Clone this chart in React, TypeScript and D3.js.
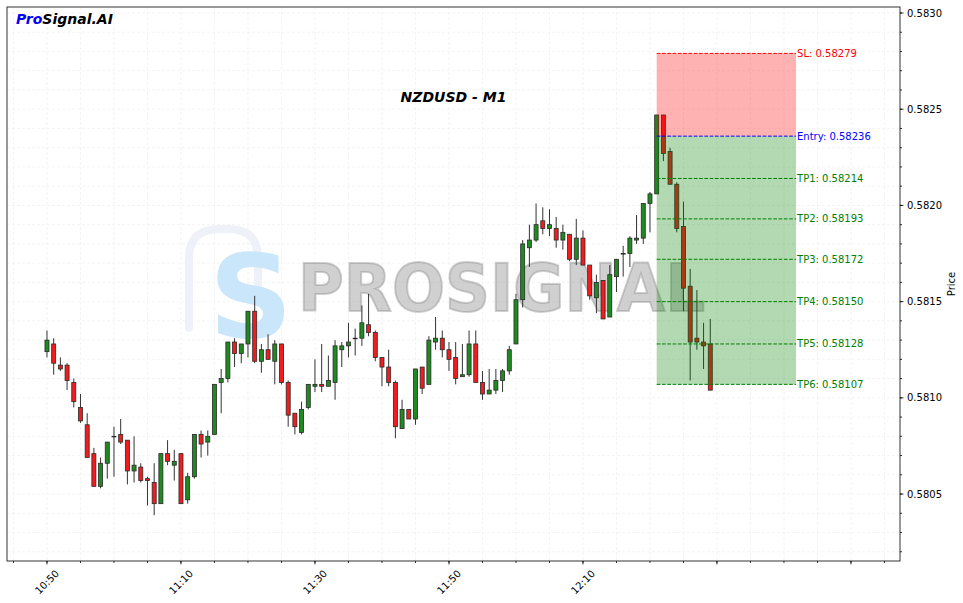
import React from "react";
import * as d3 from "d3";

// ---------- data ----------
const START_TIME = "2024-01-01T10:50:00";
const OPEN = [
  0.58124, 0.58128, 0.58117, 0.58117, 0.58108, 0.58095, 0.58086, 0.58071, 0.58054, 0.58066,
  0.5808, 0.58081, 0.58078, 0.58062, 0.58064, 0.58058, 0.58056, 0.58045, 0.58071, 0.58065,
  0.58071, 0.58047, 0.58059, 0.58081, 0.58077, 0.58081, 0.58108, 0.5811, 0.58129, 0.58123,
  0.58128, 0.58145, 0.58119, 0.58125, 0.58119, 0.58128, 0.58108, 0.58092, 0.58082, 0.58095,
  0.58106, 0.58107, 0.58106, 0.58108, 0.58125, 0.58127, 0.58131, 0.58131, 0.58138, 0.58134,
  0.58121, 0.58116, 0.58108, 0.58084, 0.58094, 0.58089, 0.58116, 0.58107, 0.58129, 0.58131,
  0.58125, 0.58121, 0.58111, 0.58112, 0.58128, 0.58108, 0.58102, 0.58104, 0.58109, 0.58114,
  0.58128, 0.58151, 0.58178, 0.58182, 0.58192, 0.58188, 0.58188, 0.58182, 0.58185, 0.58172,
  0.58183, 0.58169, 0.58152, 0.58161, 0.58142, 0.58163, 0.58175, 0.58175, 0.58182, 0.58183,
  0.58201, 0.58206, 0.58247, 0.58228, 0.58211, 0.58189, 0.58158, 0.58131, 0.58129, 0.58128,
];
const HIGH = [
  0.58135, 0.58131, 0.58121, 0.58118, 0.5811, 0.58102, 0.58092, 0.58074, 0.58069, 0.58077,
  0.58085, 0.58089, 0.58078, 0.5808, 0.58066, 0.58059, 0.58066, 0.58071, 0.58078, 0.58073,
  0.58071, 0.58061, 0.58081, 0.58083, 0.58083, 0.58107, 0.58115, 0.58129, 0.58131, 0.58128,
  0.58145, 0.58153, 0.58128, 0.58133, 0.5813, 0.58128, 0.58109, 0.58092, 0.58098, 0.58107,
  0.5812, 0.58128, 0.58122, 0.5813, 0.58129, 0.58139, 0.58136, 0.58148, 0.58154, 0.58135,
  0.58121, 0.58125, 0.58109, 0.58099, 0.58094, 0.58115, 0.58116, 0.58132, 0.58142, 0.58135,
  0.58129, 0.58129, 0.58128, 0.58135, 0.58135, 0.58114, 0.58115, 0.58115, 0.58115, 0.58127,
  0.58154, 0.58182, 0.5819, 0.58201, 0.58199, 0.58198, 0.58194, 0.5819, 0.58185, 0.58193,
  0.58187, 0.58169, 0.58164, 0.58161, 0.58169, 0.58172, 0.58179, 0.58184, 0.58195, 0.58201,
  0.58207, 0.58247, 0.58247, 0.5823, 0.58212, 0.58202, 0.58167, 0.58156, 0.58139, 0.58141,
];
const LOW = [
  0.58121, 0.58112, 0.58114, 0.58104, 0.58095, 0.58087, 0.58069, 0.58054, 0.58053, 0.58058,
  0.58059, 0.58076, 0.58055, 0.58056, 0.58056, 0.58044, 0.58039, 0.58045, 0.58065, 0.58057,
  0.58045, 0.58045, 0.58058, 0.58069, 0.5807, 0.58081, 0.58092, 0.58108, 0.58116, 0.58118,
  0.58121, 0.58118, 0.58113, 0.5812, 0.58107, 0.58107, 0.58085, 0.58081, 0.58081, 0.58094,
  0.58103, 0.58103, 0.58106, 0.58099, 0.58116, 0.58121, 0.58122, 0.58127, 0.58132, 0.58119,
  0.58106, 0.58106, 0.58079, 0.58084, 0.58089, 0.58086, 0.58102, 0.58107, 0.58125, 0.58121,
  0.58114, 0.58107, 0.58111, 0.58111, 0.58108, 0.58099, 0.58102, 0.58102, 0.58103, 0.58112,
  0.58128, 0.58147, 0.58168, 0.58181, 0.58185, 0.58184, 0.58178, 0.58177, 0.58171, 0.58169,
  0.58169, 0.58151, 0.58144, 0.58141, 0.58142, 0.58155, 0.58163, 0.58168, 0.5818, 0.5818,
  0.58186, 0.58206, 0.58223, 0.58211, 0.58186, 0.58145, 0.58109, 0.58125, 0.58115, 0.58104,
];
const CLOSE = [
  0.5813, 0.58118, 0.58115, 0.58109, 0.58098, 0.58088, 0.58069, 0.58054, 0.58066, 0.58077,
  0.5808, 0.58077, 0.58062, 0.58065, 0.58057, 0.58057, 0.58045, 0.58071, 0.58067, 0.58067,
  0.58045, 0.58059, 0.58081, 0.58076, 0.5808, 0.58107, 0.5811, 0.58129, 0.58123, 0.58128,
  0.58145, 0.58119, 0.58125, 0.5812, 0.58128, 0.58108, 0.58091, 0.58085, 0.58094, 0.58107,
  0.58107, 0.58106, 0.58109, 0.58127, 0.58127, 0.58129, 0.58131, 0.58139, 0.58134, 0.58121,
  0.58116, 0.58108, 0.58085, 0.58094, 0.58089, 0.58115, 0.58105, 0.5813, 0.58131, 0.58125,
  0.5812, 0.5811, 0.58112, 0.58128, 0.58108, 0.58102, 0.58104, 0.58109, 0.58114, 0.58125,
  0.58151, 0.5818, 0.58182, 0.5819, 0.58188, 0.5819, 0.58182, 0.58186, 0.58172, 0.58183,
  0.58169, 0.58153, 0.5816, 0.58141, 0.58164, 0.58172, 0.58175, 0.58183, 0.58183, 0.58201,
  0.58206, 0.58247, 0.58227, 0.58211, 0.58188, 0.58157, 0.58129, 0.58129, 0.58127, 0.58104,
];

const SL_PRICE = 0.58279;
const ENTRY_PRICE = 0.58236;
const TP_PRICES = [0.58214, 0.58193, 0.58172, 0.5815, 0.58128, 0.58107];
const TP_NAMES = ["TP1", "TP2", "TP3", "TP4", "TP5", "TP6"];
const ZONE_START = "2024-01-01T12:21:00";
const ZONE_END = "2024-01-01T12:41:48";
const X_DOMAIN = ["2024-01-01T10:44:02", "2024-01-01T12:57:19"];
const Y_DOMAIN = [0.580152, 0.5830312];
const X_MAJOR = ["10:50", "11:10", "11:30", "11:50", "12:10", "12:30", "12:50"];
const X_LABELS = ["10:50", "11:10", "11:30", "11:50", "12:10", "", ""];
const Y_MAJOR = [0.5805, 0.581, 0.5815, 0.582, 0.5825, 0.583];

const tm = (s: string) => new Date(s);
const hm = (s: string) => new Date(`2024-01-01T${s}:00`);

export default function App() {
  const W = 963,
    H = 603;
  const L = 7,
    R = 900,
    T = 7,
    B = 561;
  const x = d3.scaleTime().domain(X_DOMAIN.map(tm)).range([L, R]);
  const y = d3.scaleLinear().domain(Y_DOMAIN).range([B, T]);

  const t0 = tm(START_TIME).getTime();
  const candles = OPEN.map((o, i) => ({
    t: new Date(t0 + i * 60000),
    o,
    h: HIGH[i],
    l: LOW[i],
    c: CLOSE[i],
  }));
  const halfW = x(new Date(t0 + 18000)) - x(new Date(t0));

  const minorX = d3.timeMinute.every(5)!.range(x.domain()[0], x.domain()[1]);
  const minorY = d3.range(5802, 5831).map((v) => v / 10000);

  const zx0 = x(tm(ZONE_START));
  const zx1 = x(tm(ZONE_END));

  const font = "DejaVu Sans, sans-serif";

  return (
    <div style={{ position: "fixed", left: 0, top: 0 }}>
      <svg width={W} height={H} style={{ display: "block", background: "#fff" }}>
        <rect x={0} y={0} width={W} height={H} fill="#fff" />
        {/* grid */}
        <g stroke="#efefef" strokeWidth={0.7} strokeDasharray="3,2">
          {minorX.map((d, i) => (
            <line key={"gx" + i} x1={x(d)} x2={x(d)} y1={T} y2={B} />
          ))}
          {minorY.map((v, i) => (
            <line key={"gy" + i} x1={L} x2={R} y1={y(v)} y2={y(v)} />
          ))}
        </g>

        {/* watermark */}
        <g>
          <path
            d="M 189 328 L 189 258 Q 189 229 220 229 L 228 229 Q 258 229 258 258 L 258 290"
            fill="none"
            stroke="#eef2f8"
            strokeWidth={8}
            strokeLinecap="round"
          />
          <text
            x={209}
            y={337}
            fontFamily={font}
            fontWeight="bold"
            fontSize={116}
            fill="#c9e6fb"
          >
            S
          </text>
          <text
            x={298}
            y={311}
            fontFamily={font}
            fontWeight="bold"
            fontSize={66}
            textLength={407}
            lengthAdjust="spacingAndGlyphs"
            fill="#8a8a8a"
            fillOpacity={0.4}
            stroke="#8a8a8a"
            strokeOpacity={0.4}
            strokeWidth={2}
          >
            PROSIGNAL
          </text>
        </g>

        {/* candles */}
        <g>
          {candles.map((d, i) => {
            const cx = x(d.t);
            const up = d.c >= d.o;
            const yt = y(Math.max(d.o, d.c));
            const yb = y(Math.min(d.o, d.c));
            return (
              <g key={"c" + i}>
                <line x1={cx} x2={cx} y1={y(d.h)} y2={y(d.l)} stroke="#333" strokeWidth={1} />
                <rect
                  x={cx - halfW}
                  y={yt}
                  width={halfW * 2}
                  height={Math.max(0.6, yb - yt)}
                  fill={up ? "#1f8a1f" : "#f21c1c"}
                  stroke="#2a2a2a"
                  strokeWidth={0.8}
                />
              </g>
            );
          })}
        </g>

        {/* zones */}
        <rect
          x={zx0}
          y={y(SL_PRICE)}
          width={zx1 - zx0}
          height={y(ENTRY_PRICE) - y(SL_PRICE)}
          fill="red"
          fillOpacity={0.3}
        />
        <rect
          x={zx0}
          y={y(ENTRY_PRICE)}
          width={zx1 - zx0}
          height={y(TP_PRICES[TP_PRICES.length - 1]) - y(ENTRY_PRICE)}
          fill="green"
          fillOpacity={0.3}
        />
        {/* levels */}
        <g strokeWidth={1} strokeDasharray="3.7,1.6" fontFamily={font} fontSize={10}>
          <line x1={zx0} x2={zx1} y1={y(SL_PRICE)} y2={y(SL_PRICE)} stroke="red" />
          <text x={zx1 + 1} y={y(SL_PRICE)} dominantBaseline="central" fill="red" stroke="none">
            {`SL: ${SL_PRICE.toFixed(5)}`}
          </text>
          <line x1={zx0} x2={zx1} y1={y(ENTRY_PRICE)} y2={y(ENTRY_PRICE)} stroke="blue" />
          <text x={zx1 + 1} y={y(ENTRY_PRICE)} dominantBaseline="central" fill="blue" stroke="none">
            {`Entry: ${ENTRY_PRICE.toFixed(5)}`}
          </text>
          {TP_PRICES.map((p, i) => (
            <g key={"tp" + i}>
              <line x1={zx0} x2={zx1} y1={y(p)} y2={y(p)} stroke="green" />
              <text x={zx1 + 1} y={y(p)} dominantBaseline="central" fill="green" stroke="none">
                {`${TP_NAMES[i]}: ${p.toFixed(5)}`}
              </text>
            </g>
          ))}
        </g>

        {/* title + brand */}
        <text
          x={(L + R) / 2}
          y={102}
          textAnchor="middle"
          fontFamily={font}
          fontWeight="bold"
          fontStyle="italic"
          fontSize={14}
          fill="#000"
        >
          NZDUSD - M1
        </text>
        <text x={16} y={24} fontFamily={font} fontWeight="bold" fontStyle="italic" fontSize={14}>
          <tspan fill="blue">Pro</tspan>
          <tspan fill="#000">Signal.AI</tspan>
        </text>

        {/* frame */}
        <rect x={L} y={T} width={R - L} height={B - T} fill="none" stroke="#000" strokeWidth={0.8} />

        {/* y axis (right) */}
        <g stroke="#000" strokeWidth={0.8}>
          {minorY.map((v, i) => (
            <line key={"my" + i} x1={R} x2={R + 2} y1={y(v)} y2={y(v)} />
          ))}
          {Y_MAJOR.map((v, i) => (
            <line key={"My" + i} x1={R} x2={R + 3.5} y1={y(v)} y2={y(v)} />
          ))}
        </g>
        <g fontFamily={font} fontSize={10} fill="#000">
          {Y_MAJOR.map((v, i) => (
            <text key={"ly" + i} x={R + 7} y={y(v)} dominantBaseline="central">
              {v.toFixed(4)}
            </text>
          ))}
          <text
            transform={`translate(951,${(T + B) / 2}) rotate(-90)`}
            textAnchor="middle"
            dominantBaseline="central"
          >
            Price
          </text>
        </g>

        {/* x axis */}
        <g stroke="#000" strokeWidth={0.8}>
          {minorX.map((d, i) => (
            <line key={"mx" + i} x1={x(d)} x2={x(d)} y1={B} y2={B + 2} />
          ))}
          {X_MAJOR.map((s, i) => (
            <line key={"Mx" + i} x1={x(hm(s))} x2={x(hm(s))} y1={B} y2={B + 3.5} />
          ))}
        </g>
        <g fontFamily={font} fontSize={10} fill="#000">
          {X_MAJOR.map((s, i) =>
            X_LABELS[i] ? (
              <text
                key={"lx" + i}
                transform={`translate(${x(hm(s))},${582}) rotate(-45)`}
                textAnchor="middle"
                dominantBaseline="central"
              >
                {X_LABELS[i]}
              </text>
            ) : null
          )}
        </g>
      </svg>
    </div>
  );
}
